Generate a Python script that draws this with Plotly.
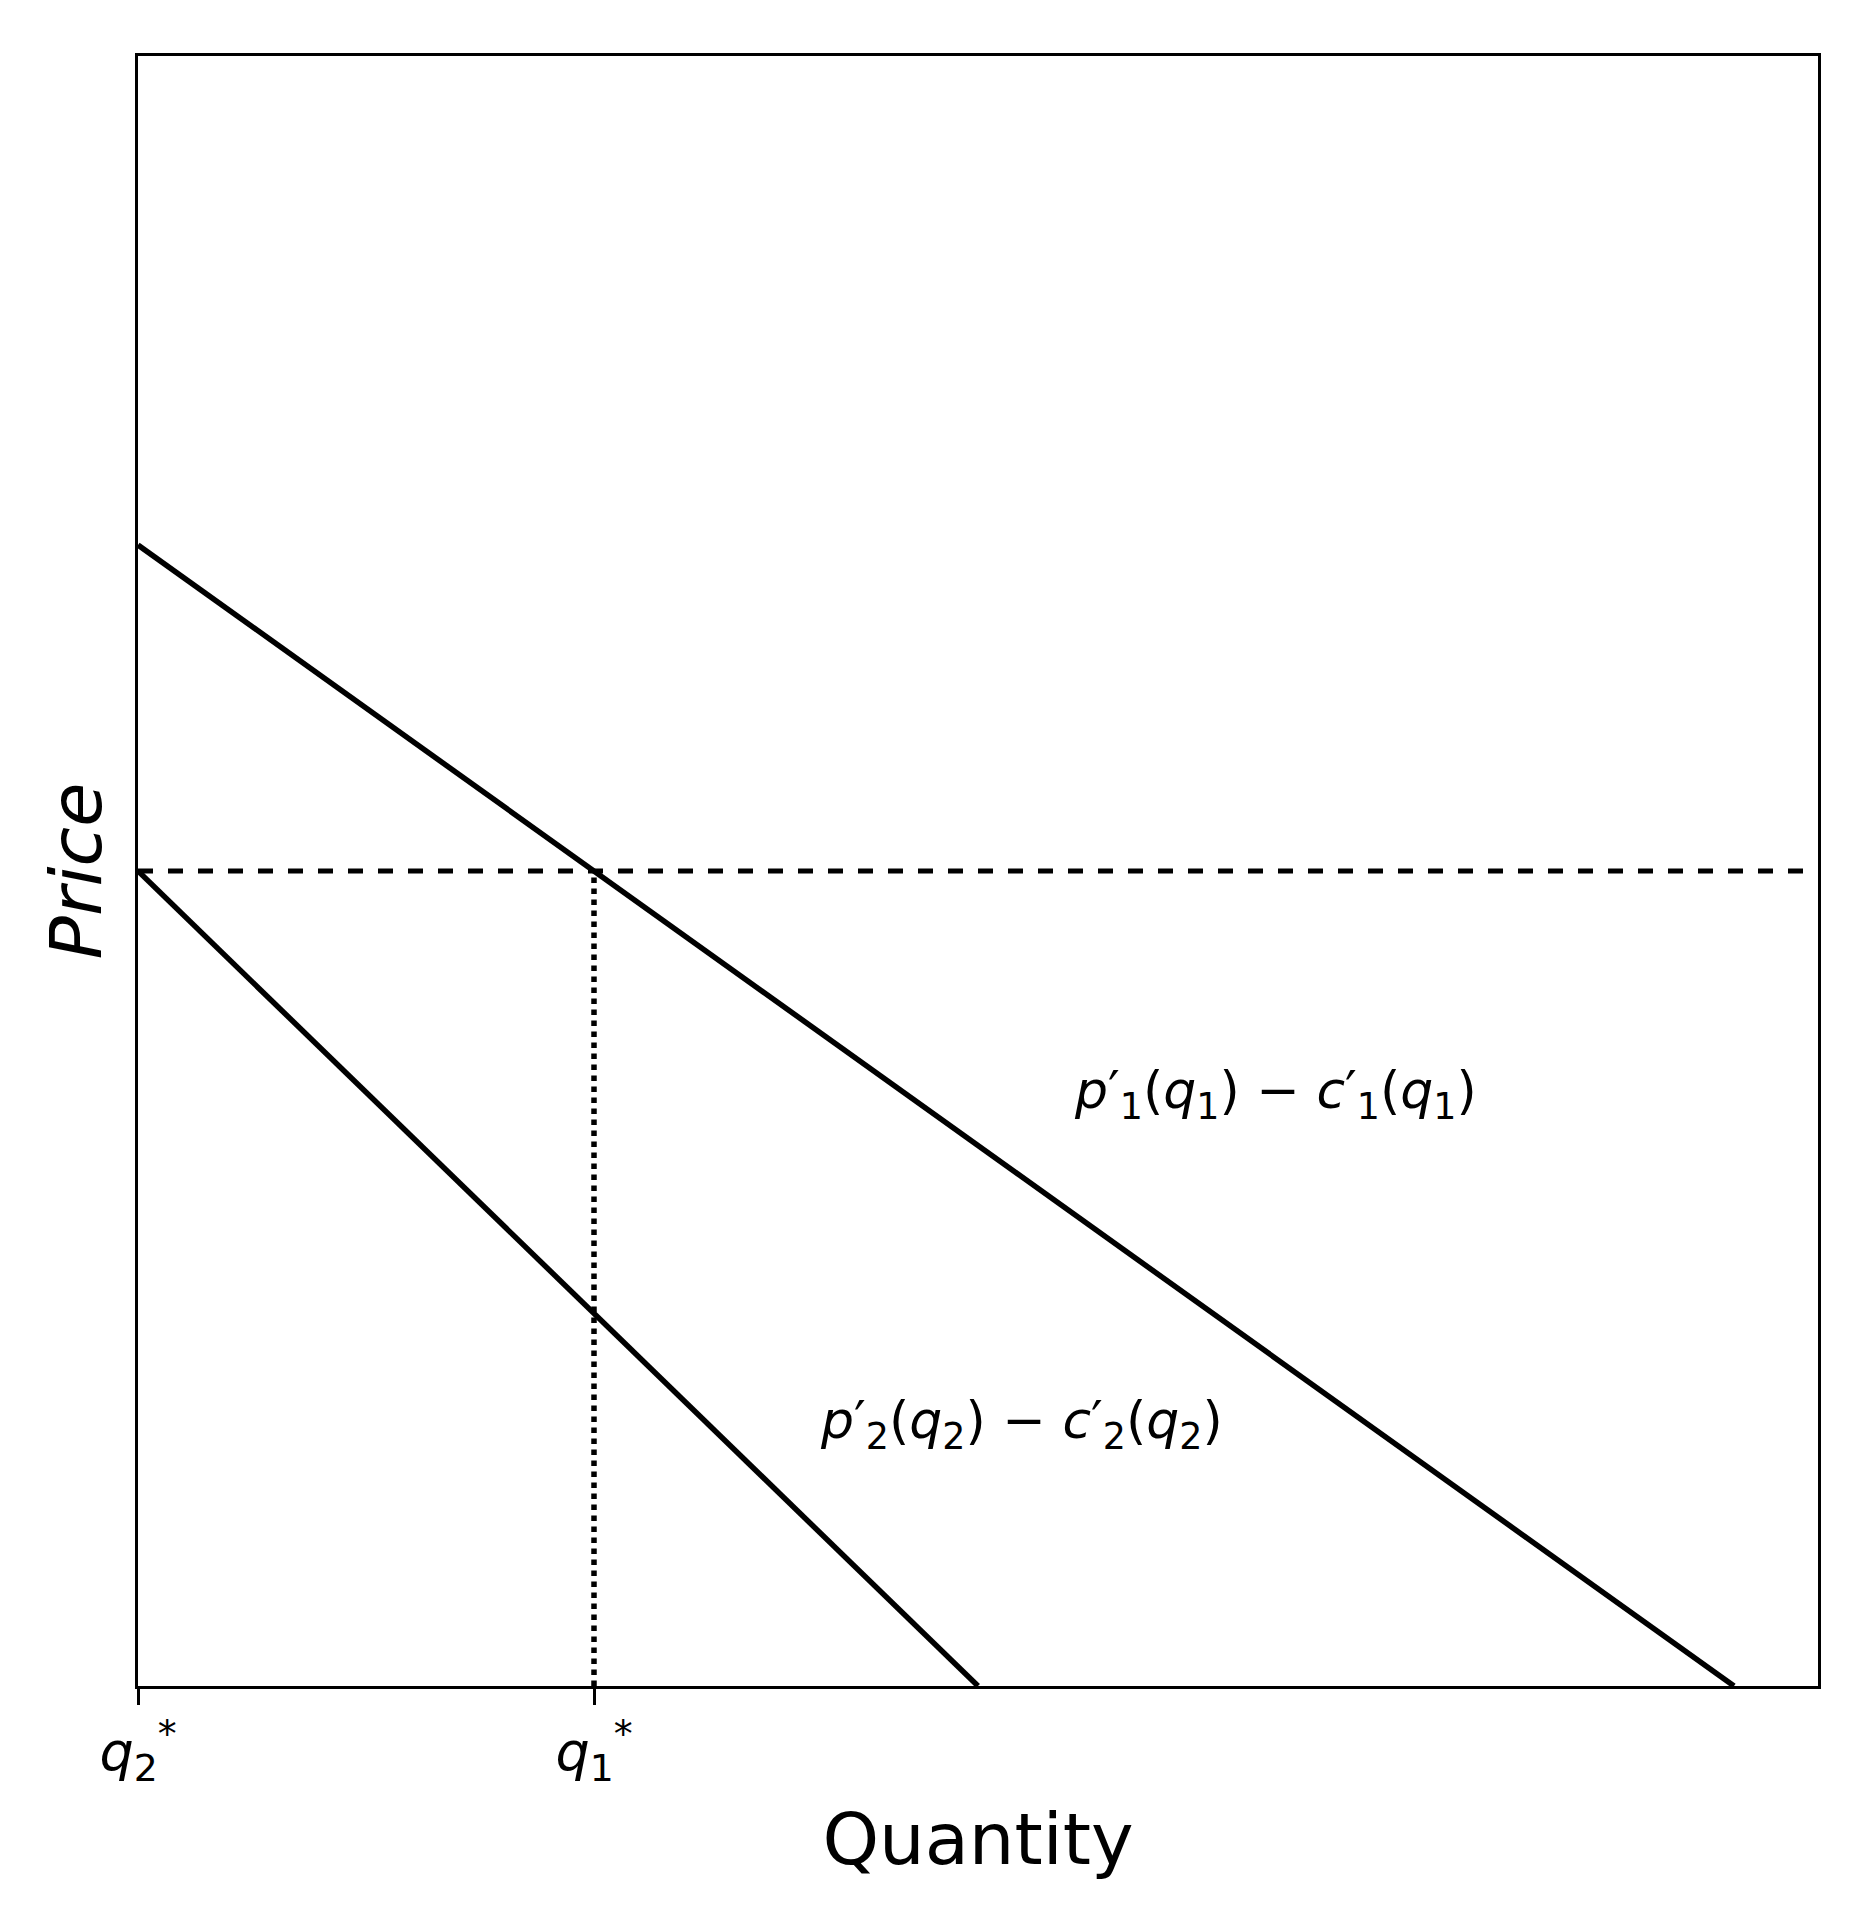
import plotly.graph_objects as go

line1_x = [0, 9.5]; line1_y = [7, 0]
line2_x = [0, 5]; line2_y = [5, 0]
price_level = 5
q1_star = 9.5 * 2 / 7
tick_vals = [0, q1_star]
tick_text = ["<i>q</i><sub>2</sub><sup>*</sup>", "<i>q</i><sub>1</sub><sup>*</sup>"]
label1 = "<i>p</i>′<sub>1</sub>(<i>q</i><sub>1</sub>) − <i>c</i>′<sub>1</sub>(<i>q</i><sub>1</sub>)"
label2 = "<i>p</i>′<sub>2</sub>(<i>q</i><sub>2</sub>) − <i>c</i>′<sub>2</sub>(<i>q</i><sub>2</sub>)"

fig = go.Figure()
fig.add_trace(go.Scatter(x=line1_x, y=line1_y, mode="lines", line=dict(color="black", width=5.5)))
fig.add_trace(go.Scatter(x=line2_x, y=line2_y, mode="lines", line=dict(color="black", width=5.5)))
fig.add_trace(go.Scatter(x=[0, 10], y=[price_level, price_level], mode="lines",
                         line=dict(color="black", width=5, dash="dash")))
fig.add_trace(go.Scatter(x=[q1_star, q1_star], y=[0, price_level], mode="lines",
                         line=dict(color="black", width=5.5, dash="dot")))
fig.add_annotation(x=6.77, y=3.63, text=label1, showarrow=False, font=dict(size=52, color="black"))
fig.add_annotation(x=5.26, y=1.61, text=label2, showarrow=False, font=dict(size=52, color="black"))

fig.update_layout(
    width=1852, height=1930, showlegend=False, plot_bgcolor="white", paper_bgcolor="white",
    margin=dict(l=130, r=42, t=48, b=252),
    font=dict(family="DejaVu Sans", color="black"),
)
fig.update_xaxes(range=[0, 10], tickvals=tick_vals, ticktext=tick_text, ticks="outside",
                 ticklen=16, tickwidth=3, tickcolor="black", tickfont=dict(size=54),
                 showgrid=False, zeroline=False, showline=True, linecolor="black", linewidth=3, mirror=True,
                 title=dict(text="Quantity", font=dict(size=72), standoff=25))
fig.update_yaxes(range=[0, 10], showticklabels=False, ticks="",
                 showgrid=False, zeroline=False, showline=True, linecolor="black", linewidth=3, mirror=True,
                 title=dict(text="<i>Price</i>", font=dict(size=72), standoff=10))
fig.write_html("out.html")
